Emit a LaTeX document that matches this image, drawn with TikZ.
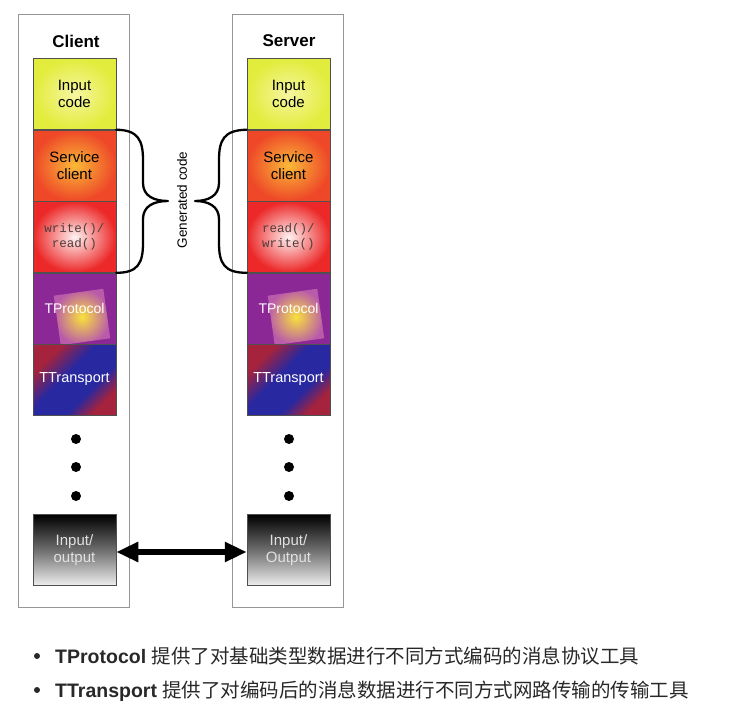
\documentclass[tikz,border=0pt]{standalone}
\usepackage{fontspec}
\setmainfont{Liberation Sans}
\setmonofont{Liberation Mono}
\newfontfamily\cjk{Noto Sans CJK SC}
\usetikzlibrary{arrows.meta}
\definecolor{colborder}{RGB}{150,150,150}
\definecolor{layborder}{RGB}{80,80,80}
\definecolor{inyelIn}{RGB}{246,246,160}
\definecolor{inyelOut}{RGB}{226,236,60}
\definecolor{svcIn}{RGB}{250,185,55}
\definecolor{svcOut}{RGB}{238,72,40}
\definecolor{wrIn}{RGB}{255,242,242}
\definecolor{wrOut}{RGB}{236,40,40}
\definecolor{protoPurple}{RGB}{140,40,150}
\definecolor{protoIn}{RGB}{248,225,60}
\definecolor{protoOut}{RGB}{185,90,170}
\definecolor{transRed}{RGB}{165,35,60}
\definecolor{transBlue}{RGB}{40,40,160}
\definecolor{ioBottom}{RGB}{238,238,238}
\definecolor{iotext}{RGB}{225,225,225}
\definecolor{codetext}{RGB}{80,60,60}
\definecolor{bottomtext}{RGB}{40,40,40}
\pgfdeclarehorizontalshading{ttrans}{100bp}{color(0bp)=(transRed); color(28bp)=(transRed); color(44bp)=(transBlue); color(62bp)=(transBlue); color(74bp)=(transRed); color(100bp)=(transRed)}
\begin{document}
\begin{tikzpicture}[x=1pt,y=-1pt,
  column/.style={draw=colborder, line width=0.9pt, minimum width=111pt, minimum height=593pt, inner sep=0pt},
  layer/.style={draw=layborder, line width=0.5pt, minimum width=83pt, minimum height=71pt, inner sep=0pt, align=center, font=\fontsize{15}{17}\selectfont},
  inputcode/.style={layer, inner color=inyelIn, outer color=inyelOut},
  svcbox/.style={layer, inner color=svcIn, outer color=svcOut},
  wrbox/.style={layer, inner color=wrIn, outer color=wrOut, font=\ttfamily\fontsize{12.5}{15}\selectfont, text=codetext},
  protobox/.style={layer, fill=protoPurple},
  protosq/.style={minimum width=50pt, minimum height=50pt, inner sep=0pt, rotate=8, inner color=protoIn, outer color=protoOut},
  transbox/.style={layer, shading=ttrans, shading angle=-45, text=white, font=\fontsize{14.5}{17}\selectfont},
  iobox/.style={layer, top color=black, bottom color=ioBottom, middle color={rgb,255:red,110;green,110;blue,110}, text=iotext},
  title/.style={font=\bfseries\fontsize{17}{20}\selectfont},
  dot/.style={circle, fill=black, minimum size=10pt, inner sep=0pt},
  bullet/.style={circle, fill=bottomtext, minimum size=6pt, inner sep=0pt},
  bracestyle/.style={line width=2.3pt, line cap=round, line join=round},
  bottomline/.style={anchor=base west, text=bottomtext, font=\fontsize{19.5}{22}\selectfont, inner sep=0pt}
]
\useasboundingbox (0,0) rectangle (737,707);
\fill[white] (0,0) rectangle (737,707);

% columns
\node[column] (ccol) at (73.5,310.5) {};
\node[column] (scol) at (287.5,310.5) {};
\node[title] (ctitle) at (76,41) {Client};
\node[title] (stitle) at (289,41) {Server};

% client layers
\node[inputcode] (cin) at (74.5,94) {Input\\code};
\node[svcbox] (csvc) at (74.5,165.5) {Service\\client};
\node[wrbox] (cwr) at (74.5,237) {write()/\\read()};
\node[protobox] (cproto) at (74.5,308.5) {};
\node[protosq] (csq) at (82,317) {};
\node[text=white, font=\fontsize{14}{17}\selectfont] (cprotot) at (74.5,308) {TProtocol};
\node[transbox] (ctrans) at (74.5,379.5) {TTransport};
\node[dot] (cd1) at (76,439) {};
\node[dot] (cd2) at (76,467) {};
\node[dot] (cd3) at (76,496) {};
\node[iobox] (cio) at (74.5,550) {Input/\\output};

% server layers
\node[inputcode] (sin) at (288.5,94) {Input\\code};
\node[svcbox] (ssvc) at (288.5,165.5) {Service\\client};
\node[wrbox] (swr) at (288.5,237) {read()/\\write()};
\node[protobox] (sproto) at (288.5,308.5) {};
\node[protosq] (ssq) at (296,317) {};
\node[text=white, font=\fontsize{14}{17}\selectfont] (sprotot) at (288.5,308) {TProtocol};
\node[transbox] (strans) at (288.5,379.5) {TTransport};
\node[dot] (sd1) at (289,439) {};
\node[dot] (sd2) at (289,467) {};
\node[dot] (sd3) at (289,496) {};
\node[iobox] (sio) at (288.5,550) {Input/\\Output};

% braces
\draw[bracestyle] (csvc.north east) .. controls (138,130) and (143,140) .. (143,160) -- (143,183)
  .. controls (143,196) and (154,201) .. (168,201)
  .. controls (154,201) and (143,206) .. (143,219) -- (143,243)
  .. controls (143,263) and (138,273) .. (cwr.south east);
\draw[bracestyle] (ssvc.north west) .. controls (224,130) and (219,140) .. (219,160) -- (219,183)
  .. controls (219,196) and (208,201) .. (195,201)
  .. controls (208,201) and (219,206) .. (219,219) -- (219,243)
  .. controls (219,263) and (224,273) .. (swr.south west);
\node[rotate=90, font=\fontsize{13.5}{16}\selectfont] (gen) at (182,200) {Generated code};

% arrow
\draw[line width=6pt, {Triangle[length=22pt,width=19pt]}-{Triangle[length=22pt,width=19pt]}] (cio.east |- 0,552) -- (sio.west |- 0,552);

% bottom text
\node[bullet] (b1) at (37,656) {};
\node[bottomline] (t1) at (55,663) {{\bfseries TProtocol} {\cjk 提供了对基础类型数据进行不同方式编码的消息协议工具}};
\node[bullet] (b2) at (37,690) {};
\node[bottomline] (t2) at (55,697) {{\bfseries TTransport} {\cjk 提供了对编码后的消息数据进行不同方式网路传输的传输工具}};
\end{tikzpicture}
\end{document}
